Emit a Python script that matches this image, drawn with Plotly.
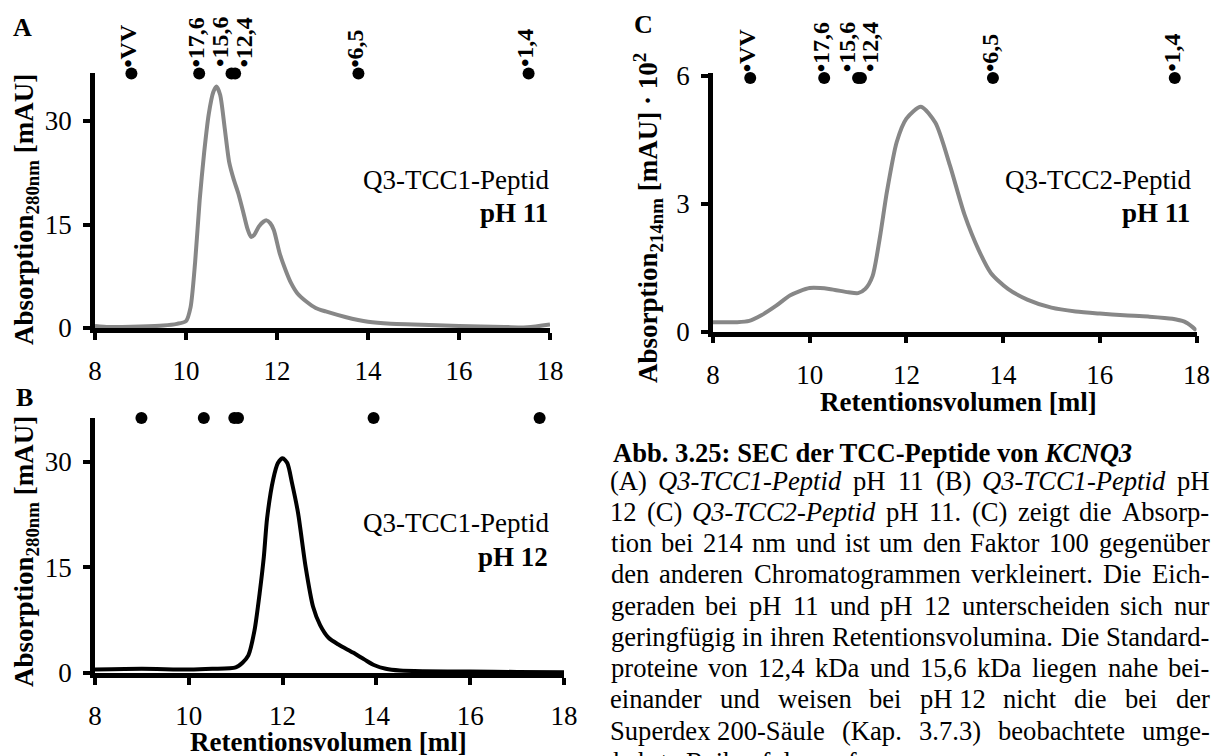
import re
import plotly.graph_objects as go

# ---------------- data ----------------
vol_A = [8.0, 8.3, 8.6, 9.0, 9.5, 9.8, 10.0, 10.1, 10.2, 10.3, 10.4, 10.5, 10.6, 10.67, 10.75, 10.85,
         10.95, 11.05, 11.15, 11.25, 11.35, 11.43, 11.5, 11.6, 11.7, 11.77, 11.85, 11.93, 12.06, 12.2,
         12.31, 12.45, 12.65, 12.85, 13.07, 13.5, 14.0, 14.5, 15.0, 16.0, 17.0, 17.5, 18.0]
abs_A = [0.3, 0.15, 0.15, 0.2, 0.35, 0.6, 1.0, 3.0, 9.5, 18.5, 25.5, 31.0, 34.2, 35.0, 33.8, 29.0,
         24.0, 21.5, 19.5, 17.0, 14.4, 13.2, 13.5, 14.7, 15.4, 15.6, 15.2, 14.2, 10.8, 8.2,
         6.5, 5.0, 3.8, 2.9, 2.4, 1.6, 0.9, 0.6, 0.5, 0.3, 0.15, 0.1, 0.5]

vol_B = [8.0, 9.0, 10.0, 10.5, 11.0, 11.15, 11.27, 11.4, 11.51, 11.6, 11.67, 11.8, 11.9, 12.0, 12.1,
         12.2, 12.33, 12.49, 12.65, 12.8, 12.98, 13.2, 13.5, 13.75, 13.96, 14.2, 14.5, 15.0, 16.0,
         17.0, 18.0]
abs_B = [0.5, 0.6, 0.5, 0.6, 0.8, 1.5, 2.5, 6.0, 11.3, 16.5, 22.0, 27.5, 29.8, 30.5, 29.8,
         27.0, 22.7, 15.1, 9.4, 6.8, 5.0, 4.0, 2.9, 1.9, 1.1, 0.6, 0.35, 0.25, 0.2,
         0.15, 0.1]

vol_C = [8.0, 8.5, 8.75, 9.0, 9.3, 9.6, 10.0, 10.4, 10.8, 11.0, 11.15, 11.3, 11.45, 11.6, 11.8,
         12.0, 12.3, 12.6, 12.9, 13.2, 13.5, 13.75, 14.1, 14.5, 15.0, 15.5, 16.0, 16.5, 17.0,
         17.5, 17.75, 17.9, 18.0]
abs_C = [0.22, 0.22, 0.25, 0.38, 0.6, 0.85, 1.02, 1.0, 0.92, 0.9, 1.0, 1.3, 2.2, 3.3, 4.45,
         5.0, 5.28, 4.9, 3.9, 2.75, 1.9, 1.37, 1.0, 0.75, 0.56, 0.47, 0.42, 0.38, 0.35,
         0.3, 0.23, 0.12, 0.02]

std_labels = ["VV", "17,6", "15,6", "12,4", "6,5", "1,4"]
std_A = [8.80, 10.29, 11.00, 11.08, 13.79, 17.53]
std_B = [8.99, 10.32, 10.97, 11.05, 13.94, 17.48]
std_C = [8.77, 10.30, 11.00, 11.06, 13.79, 17.55]
std_y_A = 36.9
std_y_B = 36.2
std_y_C = 5.95

x_ticks = [8, 10, 12, 14, 16, 18]
y_ticks_AB = [0, 15, 30]
y_ticks_C = [0, 3, 6]

caption_title = "<b>Abb. 3.25: SEC der TCC-Peptide von <i>KCNQ3</i></b>"
caption_lines = [
    "(A) <i>Q3-TCC1-Peptid</i> pH 11 (B) <i>Q3-TCC1-Peptid</i> pH",
    "12 (C) <i>Q3-TCC2-Peptid</i> pH 11. (C) zeigt die Absorp-",
    "tion bei 214 nm und ist um den Faktor 100 gegenüber",
    "den anderen Chromatogrammen verkleinert. Die Eich-",
    "geraden bei pH 11 und pH 12 unterscheiden sich nur",
    "geringfügig in ihren Retentionsvolumina. Die Standard-",
    "proteine von 12,4 kDa und 15,6 kDa liegen nahe bei-",
    "einander und weisen bei pH\u00a012 nicht die bei der",
    "Superdex\u00a0200-Säule (Kap. 3.7.3) beobachtete umge-",
    "kehrte Reihenfolge auf.",
]

# ---------------- style ----------------
W, H = 1211, 756
FONT = "Liberation Serif, Times New Roman, serif"
GRAY = "#878787"
FS = 27

def px_x(p):
    return p / W

def px_y(p):
    return 1 - p / H

fig = go.Figure()

fig.add_trace(go.Scatter(x=vol_A, y=abs_A, mode="lines", xaxis="x", yaxis="y",
                         line=dict(color=GRAY, width=4, shape="spline", smoothing=0.7)))
fig.add_trace(go.Scatter(x=vol_B, y=abs_B, mode="lines", xaxis="x2", yaxis="y2",
                         line=dict(color="black", width=4, shape="spline", smoothing=0.7)))
fig.add_trace(go.Scatter(x=vol_C, y=abs_C, mode="lines", xaxis="x3", yaxis="y3",
                         line=dict(color=GRAY, width=4, shape="spline", smoothing=0.7)))

for xs, yv, xa, ya in [(std_A, std_y_A, "x", "y"), (std_B, std_y_B, "x2", "y2"),
                       (std_C, std_y_C, "x3", "y3")]:
    fig.add_trace(go.Scatter(x=xs, y=[yv] * len(xs), mode="markers", xaxis=xa, yaxis=ya,
                             cliponaxis=False,
                             marker=dict(color="black", size=12, line=dict(width=0))))

label_shift = [-3, -3, -11, 9, -3, -3]
annotations = []
for xs, yv, xa, ya in [(std_A, std_y_A, "x", "y"), (std_C, std_y_C, "x3", "y3")]:
    for lab, xv, sh in zip(std_labels, xs, label_shift):
        annotations.append(dict(x=xv, y=yv, xref=xa, yref=ya, text="<b>•" + lab + "</b>",
                                textangle=-90, showarrow=False, xanchor="center",
                                yanchor="bottom", xshift=sh, yshift=4,
                                font=dict(family=FONT, size=24, color="black")))

axis_common = dict(showline=True, linewidth=4.5, linecolor="black", ticks="outside",
                   ticklen=7, tickwidth=4, tickcolor="black", showgrid=False, zeroline=False,
                   automargin=False,
                   tickfont=dict(family=FONT, size=FS, color="black"))

fig.update_layout(
    template="none",
    width=W, height=H, margin=dict(l=0, r=0, t=0, b=0, autoexpand=False),
    paper_bgcolor="white", plot_bgcolor="white", showlegend=False,
    xaxis=dict(domain=[px_x(95), px_x(550)], range=[8, 18], tickvals=x_ticks,
               anchor="y", ticklabelstandoff=8, **axis_common),
    yaxis=dict(domain=[px_y(328), px_y(73)], range=[0, 36.96], tickvals=y_ticks_AB,
               anchor="x", ticklabelstandoff=6, **axis_common),
    xaxis2=dict(domain=[px_x(95), px_x(564)], range=[8, 18], tickvals=x_ticks,
                anchor="y2", ticklabelstandoff=8, **axis_common),
    yaxis2=dict(domain=[px_y(673), px_y(418)], range=[0, 36.2], tickvals=y_ticks_AB,
                anchor="x2", ticklabelstandoff=6, **axis_common),
    xaxis3=dict(domain=[px_x(713), px_x(1196.5)], range=[8, 18], tickvals=x_ticks,
                anchor="y3", ticklabelstandoff=8, **axis_common),
    yaxis3=dict(domain=[px_y(331.5), px_y(73)], range=[0, 6.07], tickvals=y_ticks_C,
                anchor="x3", ticklabelstandoff=6, **axis_common),
)

def ann_paper(text, xp, yp, size=FS, xanchor="center", yanchor="middle", angle=0):
    return dict(text=text, x=px_x(xp), y=px_y(yp), xref="paper", yref="paper",
                showarrow=False, xanchor=xanchor, yanchor=yanchor, textangle=angle,
                font=dict(family=FONT, size=size, color="black"))

annotations += [ann_paper("<b>A</b>", 22, 28, size=26),
                ann_paper("<b>B</b>", 24, 397, size=26),
                ann_paper("<b>C</b>", 643, 25, size=26)]

annotations += [
    ann_paper("<b>Absorption<sub>280nm</sub> [mAU]</b>", 26, 210, angle=-90),
    ann_paper("<b>Absorption<sub>280nm</sub> [mAU]</b>", 26, 552, angle=-90),
    ann_paper("<b>Absorption<sub>214nm</sub> [mAU] · 10<sup>2</sup></b>", 648, 218, angle=-90),
]
annotations += [
    ann_paper("<b>Retentionsvolumen [ml]</b>", 328, 742),
    ann_paper("<b>Retentionsvolumen [ml]</b>", 958, 402),
]
annotations += [
    ann_paper("Q3-TCC1-Peptid", 551, 180, xanchor="right"),
    ann_paper("<b>pH 11</b>", 550, 213, xanchor="right"),
    ann_paper("Q3-TCC1-Peptid", 551, 523, xanchor="right"),
    ann_paper("<b>pH 12</b>", 550, 557, xanchor="right"),
    ann_paper("Q3-TCC2-Peptid", 1193, 180, xanchor="right"),
    ann_paper("<b>pH 11</b>", 1192, 213, xanchor="right"),
]

# ---------------- caption (justified) ----------------
TW = {' ': 250, '\u00a0': 250, '(': 333, ')': 333, ',': 250, '-': 333, '.': 250, ':': 278,
      'A': 722, 'B': 667, 'C': 667, 'D': 722, 'E': 611, 'F': 556, 'G': 722, 'H': 722, 'I': 333,
      'J': 389, 'K': 722, 'L': 611, 'M': 889, 'N': 722, 'O': 722, 'P': 556, 'Q': 722, 'R': 667,
      'S': 556, 'T': 611, 'U': 722, 'V': 722, 'W': 944, 'X': 722, 'Y': 722, 'Z': 611,
      'a': 444, 'b': 500, 'c': 444, 'd': 500, 'e': 444, 'f': 333, 'g': 500, 'h': 500, 'i': 278,
      'j': 278, 'k': 500, 'l': 278, 'm': 778, 'n': 500, 'o': 500, 'p': 500, 'q': 500, 'r': 333,
      's': 389, 't': 278, 'u': 500, 'v': 500, 'w': 722, 'x': 500, 'y': 500, 'z': 444,
      'ä': 444, 'ü': 500, 'ö': 500}

def text_width(s, size):
    plain = re.sub(r"<[^>]+>", "", s)
    return sum(TW.get(c, 500) for c in plain) * size / 1000.0

CAP_L, CAP_R = 610.5, 1209.5
CAP_FS = 26.6
annotations.append(ann_paper(caption_title, CAP_L, 453, size=CAP_FS, xanchor="left"))
line0 = 480.5
dline = 31.25
for i, line in enumerate(caption_lines):
    yc = line0 + i * dline
    words = line.split(" ")
    if i == len(caption_lines) - 1:
        annotations.append(ann_paper(line, CAP_L, yc, size=CAP_FS, xanchor="left"))
        continue
    widths = [text_width(w, CAP_FS) for w in words]
    gap = (CAP_R - CAP_L - sum(widths)) / (len(words) - 1)
    xpos = CAP_L
    for w, wd in zip(words, widths):
        annotations.append(ann_paper(w, xpos + wd / 2, yc, size=CAP_FS, xanchor="center"))
        xpos += wd + gap

fig.update_layout(annotations=annotations)
fig.write_html(
    "out.html",
    config={"displayModeBar": False},
    post_script=("document.documentElement.style.margin='0';"
                 "document.body.style.margin='0';"
                 "document.documentElement.style.overflow='hidden';"
                 "document.body.style.overflow='hidden';"),
)
